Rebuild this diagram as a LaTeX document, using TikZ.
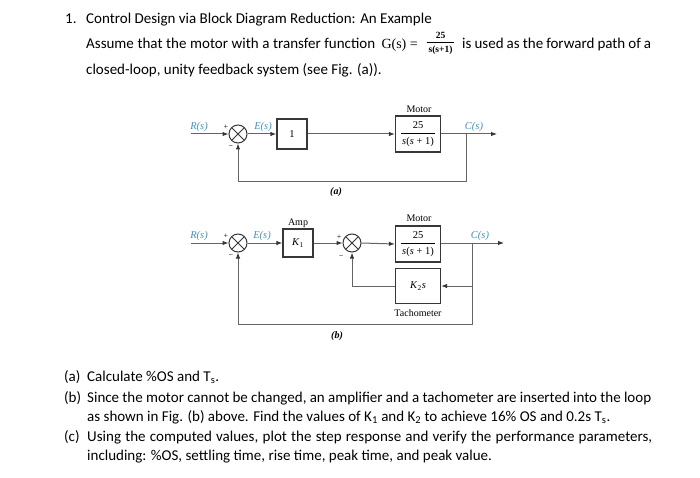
\documentclass[tikz,border=0pt]{standalone}
\usepackage{fontspec}
\setmainfont{Carlito}
\newfontfamily\dfont{Liberation Serif}
\usetikzlibrary{arrows.meta,calc}
\definecolor{lab}{RGB}{70,145,180}
\definecolor{ln}{RGB}{100,100,100}
\definecolor{bx}{RGB}{55,55,55}
\begin{document}
\begin{tikzpicture}[x=1pt,y=-1pt,
  txt/.style={anchor=base west,inner sep=0pt,font=\fontsize{15}{18}\selectfont},
  wire/.style={draw=ln,line width=1pt},
  arr/.style={wire,-{Latex[length=6pt,width=4.5pt,color=bx]}},
  blk/.style={draw=bx,line width=1.2pt,inner sep=1pt,font=\dfont\fontsize{10.5}{12}\selectfont},
  sumj/.style={circle,draw=bx,line width=1pt,minimum size=18pt,inner sep=0pt,
    path picture={\draw[bx,line width=0.9pt]
      (path picture bounding box.north west) -- (path picture bounding box.south east)
      (path picture bounding box.north east) -- (path picture bounding box.south west);}},
  sig/.style={text=lab,inner sep=0pt,font=\dfont\itshape\fontsize{10.5}{12}\selectfont},
  captxt/.style={inner sep=0pt,font=\dfont\fontsize{10}{12}\selectfont},
  sgn/.style={inner sep=0pt,font=\dfont\fontsize{8}{9}\selectfont},
  figlab/.style={inner sep=0pt,font=\dfont\bfseries\itshape\fontsize{10}{12}\selectfont}
]
\useasboundingbox[fill=white] (0,0) rectangle (700,478);

% ---------- text top ----------
\node[txt] (n1) at (65,24) {1.};
\node[txt] (t1) at (86,24) {Control Design via Block Diagram Reduction: An Example};
\node[txt] (t2a) at (86,49) {\makebox[289pt][s]{Assume that the motor with a transfer function}};
\node[anchor=base east,inner sep=0pt,font=\dfont\fontsize{14}{16}\selectfont] (t2g) at (418,49) {G(s) =};
\node[inner sep=0pt,font=\dfont\bfseries\fontsize{9.5}{11}\selectfont] (t2f) at (440.5,43.5)
  {\renewcommand\arraystretch{1}\setlength\tabcolsep{2pt}\begin{tabular}{c}25\\\hline\rule{0pt}{10pt}s(s+1)\end{tabular}};
\node[txt] (t2b) at (462,49) {\makebox[189pt][s]{is used as the forward path of a}};
\node[txt] (t3) at (86,75) {closed-loop, unity feedback system (see Fig. (a)).};

% ---------- figure (a) ----------
\node[sumj] (sA) at (238,134) {};
\coordinate (inA) at (191,134);
\node[blk,minimum width=30pt,minimum height=30pt] (oneA) at (292,134) {1};
\node[blk,minimum width=45pt,minimum height=36pt] (mA) at (418,134)
  {\setlength\tabcolsep{1pt}\begin{tabular}{c}25\\[1pt]\hline\rule{0pt}{11pt}\textit{s}(\textit{s} + 1)\end{tabular}};
\coordinate (brA) at (466,134);
\coordinate (outA) at (497,134);
\coordinate (fbA) at (466,182);
\draw[arr] (inA) -- (sA.west);
\draw[arr] (sA.east) -- (oneA.west);
\draw[arr] (oneA.east) -- (mA.west);
\draw[arr] (mA.east) -- (outA);
\draw[arr] (brA) -- (fbA) -| (sA.south);
\node[sig] (RA) at (199,127) {R(s)};
\node[sig] (EA) at (263,127) {E(s)};
\node[sig] (CA) at (474,127) {C(s)};
\node[sgn] (pA) at (226,127) {+};
\node[sgn] (mnA) at (231,147) {−};
\node[captxt] (motA) at (419,109) {Motor};
\node[figlab] (la) at (336,192) {(a)};

% ---------- figure (b) ----------
\node[sumj] (s1) at (238,243) {};
\coordinate (inB) at (191,243);
\node[blk,minimum width=30pt,minimum height=28pt] (amp) at (298,243) {\textit{K}\textsubscript{1}};
\node[sumj] (s2) at (352,243) {};
\node[blk,minimum width=45pt,minimum height=36pt] (mB) at (418,244)
  {\setlength\tabcolsep{1pt}\begin{tabular}{c}25\\[1pt]\hline\rule{0pt}{11pt}\textit{s}(\textit{s} + 1)\end{tabular}};
\node[blk,minimum width=45pt,minimum height=35pt] (tach) at (418,286) {\textit{K}\textsubscript{2}\textit{s}};
\coordinate (brB) at (472,243);
\coordinate (outB) at (504,243);
\coordinate (tR) at (472,286);
\coordinate (fbB) at (472,324);
\draw[arr] (inB) -- (s1.west);
\draw[arr] (s1.east) -- (amp.west);
\draw[arr] (amp.east) -- (s2.west);
\draw[arr] (s2.east) -- (mB.west);
\draw[arr] (mB.east |- brB) -- (outB);
\draw[arr] (brB) -- (fbB) -| (s1.south);
\draw[arr] (tR) -- (tach.east);
\draw[arr] (tach.west) -| (s2.south);
\node[sig] (RB) at (199,236) {R(s)};
\node[sig] (EB) at (262,236) {E(s)};
\node[sig] (CB) at (480,236) {C(s)};
\node[sgn] (p1) at (226,236) {+};
\node[sgn] (m1) at (231,256) {−};
\node[sgn] (p2) at (339,237) {+};
\node[sgn] (m2) at (341,257) {−};
\node[captxt] (ampl) at (298,223) {Amp};
\node[captxt] (motB) at (419,218) {Motor};
\node[captxt] (tachl) at (418,313) {Tachometer};
\node[figlab] (lb) at (337,336) {(b)};

% ---------- text bottom ----------
\node[txt] (qa) at (64,381) {(a)};
\node[txt] (qat) at (87,381) {Calculate \%OS and T\textsubscript{s}.};
\node[txt] (qb) at (64,402) {(b)};
\node[txt] (qbt) at (87,402) {\makebox[564pt][s]{Since the motor cannot be changed, an amplifier and a tachometer are inserted into the loop}};
\node[txt] (qbt2) at (87,421) {as shown in Fig. (b) above. Find the values of K\textsubscript{1} and K\textsubscript{2} to achieve 16\% OS and 0.2s T\textsubscript{s}.};
\node[txt] (qc) at (64,441) {(c)};
\node[txt] (qct) at (87,441) {\makebox[565pt][s]{Using the computed values, plot the step response and verify the performance parameters,}};
\node[txt] (qct2) at (87,460) {including: \%OS, settling time, rise time, peak time, and peak value.};
\end{tikzpicture}
\end{document}
